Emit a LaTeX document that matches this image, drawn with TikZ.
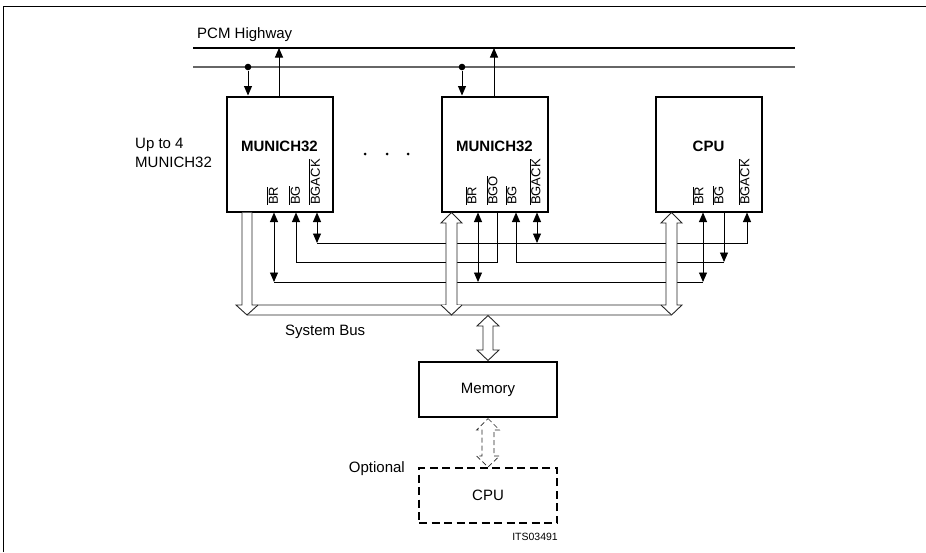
\documentclass[tikz,border=0pt]{standalone}
\usepackage{fontspec}
\setmainfont{Liberation Sans}
\usetikzlibrary{arrows.meta}
\newcommand{\ovl}[1]{$\overline{\hbox{#1}}$}

\begin{document}
\begin{tikzpicture}[x=1pt,y=-1pt,
    >={Triangle[width=8pt,length=9.5pt]},
    blk/.style={draw, line width=2pt, minimum width=106pt, minimum height=115pt, inner sep=0},
    membox/.style={draw, line width=2pt, minimum width=138pt, minimum height=55pt, inner sep=0,
      font=\fontsize{15}{18}\selectfont},
    optbox/.style={membox, dash pattern=on 8pt off 4.5pt},
    txt/.style={inner sep=0, font=\fontsize{15}{18}\selectfont},
    ttl/.style={inner sep=0, font=\bfseries\fontsize{15}{18}\selectfont},
    pinlbl/.style={inner sep=0, rotate=90, anchor=west, font=\fontsize{13}{15}\selectfont},
    sig/.style={line width=0.9pt},
    bus/.style={draw=black!85, fill=white, line width=0.9pt},
    hwdot/.style={circle, fill, inner sep=0, minimum size=6.6pt}]

  \useasboundingbox (0,0) rectangle (926,552);
  \draw[line width=1pt] (3,552) -- (3,6) -- (926,6);

  % PCM highway
  \coordinate (hw1) at (193,48);
  \coordinate (hw2) at (795,48);
  \coordinate (hl1) at (193,67);
  \coordinate (hl2) at (795,67);
  \draw[line width=1.2pt] (hw1) -- (hw2);
  \draw[line width=1.2pt, black!60] (hl1) -- (hl2);
  \node[txt, anchor=base west] (pcm) at (197,38) {PCM Highway};

  % blocks
  \node[blk] (mu1) at (279.5,154) {};
  \node[blk] (mu2) at (494.5,154) {};
  \node[blk] (cpu) at (708.5,154) {};
  \node[ttl, anchor=base] (t1) at (279.5,151) {MUNICH32};
  \node[ttl, anchor=base] (t2) at (494.5,151) {MUNICH32};
  \node[ttl, anchor=base] (t3) at (708.5,151) {CPU};
  \node[txt, anchor=base west] (upto) at (135,148) {Up to 4};
  \node[txt, anchor=base west] (upto2) at (135,167) {MUNICH32};
  \foreach \x in {365,387,408}
    \fill (\x,154) circle[radius=1.5pt];

  % pins
  \node[pinlbl] (l1br) at (272.5,205) {\ovl{BR}};
  \node[pinlbl] (l1bg) at (294.5,205) {\ovl{BG}};
  \node[pinlbl] (l1ak) at (314.5,205) {\ovl{BGACK}};
  \node[pinlbl] (l2br) at (471,205) {\ovl{BR}};
  \node[pinlbl] (l2bgo) at (492,205) {\ovl{BGO}};
  \node[pinlbl] (l2bg) at (511,205) {\ovl{BG}};
  \node[pinlbl] (l2ak) at (535,205) {\ovl{BGACK}};
  \node[pinlbl] (l3br) at (698,205) {\ovl{BR}};
  \node[pinlbl] (l3bg) at (718,205) {\ovl{BG}};
  \node[pinlbl] (l3ak) at (744,205) {\ovl{BGACK}};

  % highway taps
  \node[hwdot] (d1) at (248,67) {};
  \node[hwdot] (d2) at (462,67) {};
  \coordinate (u1) at (279,48);
  \coordinate (u2) at (494,48);
  \draw[sig,->] (d1) -- (d1 |- mu1.north);
  \draw[sig,->] (d2) -- (d2 |- mu2.north);
  \draw[sig,->] (u1 |- mu1.north) -- (u1);
  \draw[sig,->] (u2 |- mu2.north) -- (u2);

  % bus request lines
  \coordinate (br1) at (274,282);
  \coordinate (br2) at (478,282);
  \coordinate (br3) at (703,282);
  \draw[sig] (br1) -- (br3);
  \draw[sig,<->] (br1 |- mu1.south) -- (br1);
  \draw[sig,<->] (br2 |- mu2.south) -- (br2);
  \draw[sig,<->] (br3 |- cpu.south) -- (br3);

  % bus grant chain
  \coordinate (bg1) at (296,262);
  \coordinate (bgo2) at (497,262);
  \coordinate (bg2) at (516,262);
  \coordinate (bg3) at (724,262);
  \draw[sig,->] (bgo2 |- mu2.south) -- (bgo2) -- (bg1) -- (bg1 |- mu1.south);
  \draw[sig,->] (bg3 |- cpu.south) -- (bg3);
  \draw[sig,->] (bg3) -- (bg2) -- (bg2 |- mu2.south);

  % bus grant acknowledge
  \coordinate (ak1) at (317,243);
  \coordinate (ak2) at (537,243);
  \coordinate (ak3) at (747,243);
  \draw[sig,->] (ak1) -- (ak3) -- (ak3 |- cpu.south);
  \draw[sig,<->] (ak1 |- mu1.south) -- (ak1);
  \draw[sig,<->] (ak2 |- mu2.south) -- (ak2);

  % system bus
  \draw[bus] (242,212.5) -- (242,305) -- (236,305) -- (247,315) -- (671.5,315) -- (682,305)
    -- (677,305) -- (677,223) -- (682,223) -- (671.5,212.5) -- (661,223) -- (666,223)
    -- (666,305) -- (457,305) -- (457,223) -- (462,223) -- (451.5,212.5) -- (441,223)
    -- (446,223) -- (446,305) -- (252,305) -- (252,212.5);
  \draw[bus] (258,305) -- (247,315);
  \draw[bus] (441,305) -- (451.5,315) -- (462,305);
  \draw[bus] (661,305) -- (671.5,315);
  \node[txt, anchor=base west] (sbus) at (285,335) {System Bus};

  % memory and optional cpu
  \node[membox] (mem) at (488,389.5) {Memory};
  \node[optbox] (ocpu) at (488,495.5) {};
  \node[txt, anchor=base] (ocpul) at (488,500) {CPU};
  \node[txt, anchor=base east] (opt) at (405,472) {Optional};
  \node[inner sep=0, anchor=base east, font=\fontsize{10.5}{12}\selectfont] (its) at (558,540) {ITS03491};

  \draw[bus] (488,315.5) -- (499,326) -- (493,326) -- (493,350) -- (499,350) -- (488,360.5)
    -- (477,350) -- (483,350) -- (483,326) -- (477,326) -- cycle;
  \draw[bus, line width=0.7pt, dash pattern=on 5pt off 3pt] (488,418.5) -- (499.5,430) -- (494,430)
    -- (494,456) -- (499.5,456) -- (488,467) -- (476.5,456) -- (482,456) -- (482,430)
    -- (476.5,430) -- cycle;
\end{tikzpicture}
\end{document}
